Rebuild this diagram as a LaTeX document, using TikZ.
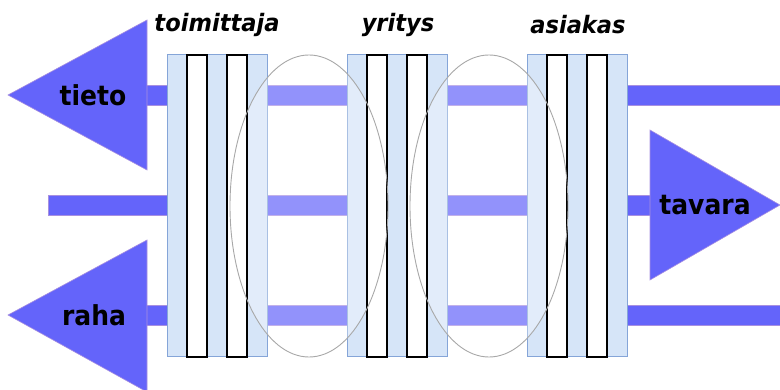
\documentclass[tikz,border=0pt]{standalone}
\usepackage{fontspec}
\newfontfamily\dv{DejaVu Sans}
\definecolor{arr}{HTML}{6464FA}
\definecolor{arredge}{HTML}{A890E0}
\definecolor{strip}{HTML}{D6E5F8}
\definecolor{stripb}{HTML}{85A5D8}
\definecolor{ellc}{HTML}{A8A8A8}
\tikzset{
  bar/.style={fill=arr, draw=arredge, line width=0.5pt},
  bigarrow/.style={fill=arr, draw=arredge, line width=0.6pt},
  lightstrip/.style={fill=strip, draw=stripb, line width=1pt},
  whitestrip/.style={fill=white, draw=black, line width=1.1pt},
  blackedge/.style={draw=black, line width=1.1pt},
  veil/.style={fill=white, fill opacity=0.3, draw=none},
  ring/.style={draw=ellc, line width=0.9pt},
  toplabel/.style={font=\dv\bfseries\itshape\fontsize{24}{28}\selectfont, inner sep=0pt, transform shape, xscale=0.94},
  flowlabel/.style={font=\dv\bfseries\fontsize{27.5}{32}\selectfont, inner sep=0pt, transform shape, xscale=0.91}
}
\begin{document}
\begin{tikzpicture}[x=1pt,y=-1pt]
\useasboundingbox (0,0) rectangle (780,390);
% horizontal bars
\foreach \yc in {95,205,315}{
  \draw[bar] (267,\yc-10) rectangle (347,\yc+10);
  \draw[bar] (447,\yc-10) rectangle (527,\yc+10);
}
\draw[bar] (110,85) rectangle (167,105);
\draw[bar] (48,195) rectangle (167,215);
\draw[bar] (110,305) rectangle (167,325);
\draw[bar] (627,85) rectangle (781,105);
\draw[bar] (627,195) rectangle (670,215);
\draw[bar] (627,305) rectangle (781,325);
% big arrows
\draw[bigarrow] (8,95) -- (147,20) -- (147,170) -- cycle;
\draw[bigarrow] (8,315) -- (147,240) -- (147,392) -- cycle;
\draw[bigarrow] (650,130) -- (780,205) -- (650,280) -- cycle;
% strip groups
\foreach \gx in {167,347,527}{
  \foreach \dx in {0,40,80}{
    \draw[lightstrip] (\gx+\dx,55) rectangle (\gx+\dx+20,357);
  }
  \foreach \dx in {20,60}{
    \draw[whitestrip] (\gx+\dx,55) rectangle (\gx+\dx+20,357);
  }
}
% translucent ellipses
\fill[veil] (309,206) ellipse [x radius=79, y radius=151];
\fill[veil] (489,206) ellipse [x radius=79, y radius=151];
\foreach \gx in {167,347,527}{
  \foreach \dx in {20,60}{
    \draw[blackedge] (\gx+\dx,55) rectangle (\gx+\dx+20,357);
  }
}
\draw[ring] (309,206) ellipse [x radius=79, y radius=151];
\draw[ring] (489,206) ellipse [x radius=79, y radius=151];
% labels
\node[toplabel] (l1) at (217,25) {toimittaja};
\node[toplabel] (l2) at (398,25) {yritys};
\node[toplabel] (l3) at (578,25) {asiakas};
\node[flowlabel] (tieto) at (93,95) {tieto};
\node[flowlabel] (raha) at (94,315) {raha};
\node[flowlabel] (tavara) at (705,205) {tavara};
\end{tikzpicture}
\end{document}
